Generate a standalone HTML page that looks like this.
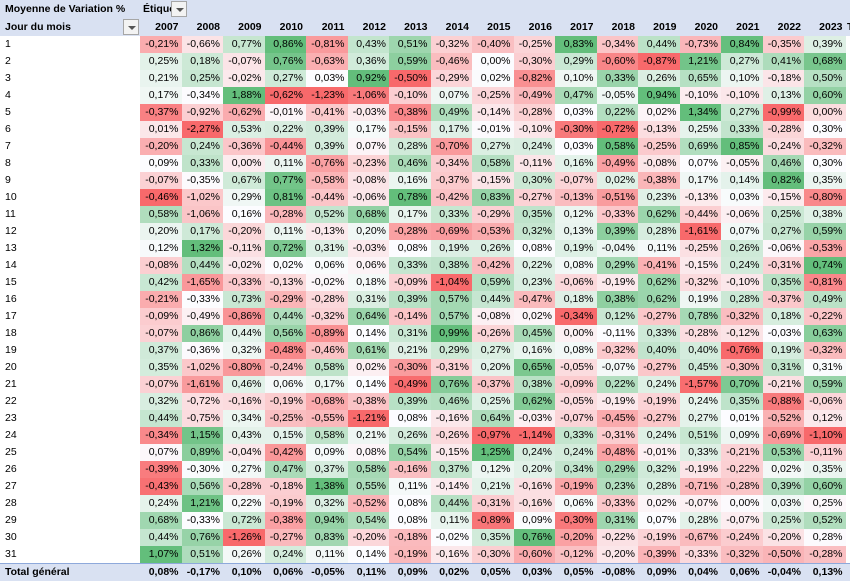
<!DOCTYPE html>
<html><head><meta charset="utf-8">
<style>
html,body{margin:0;padding:0;background:#fff;}
#wrap{position:relative;width:850px;height:581px;overflow:hidden;font-family:"Liberation Sans",sans-serif;font-size:10.5px;color:#000;}
.hdr{position:absolute;background:#D9E1F2;}
.c{position:absolute;box-sizing:border-box;text-align:right;padding-right:3px;line-height:17px;height:17px;white-space:nowrap;}
.b{font-weight:bold;}
.lbl{position:absolute;left:5px;line-height:17px;white-space:nowrap;}
.dd{position:absolute;width:16px;height:16px;box-sizing:border-box;border:1px solid #a6a6a6;background:#f3f3f3;}
.dd:after{content:"";position:absolute;left:4px;top:6px;border-left:4px solid transparent;border-right:4px solid transparent;border-top:4px solid #555;}
</style></head>
<body>
<div id="wrap">
  <div class="hdr" style="left:0;top:0;width:850px;height:36px;"></div>
  <div class="lbl b" style="top:1px;">Moyenne de Variation %</div>
  <div class="lbl b" style="left:143px;top:1px;width:28px;overflow:hidden;">Étiquettes de colonnes</div>
  <div class="dd" style="left:171px;top:1px;"></div>
  <div class="lbl b" style="top:19px;">Jour du mois</div>
  <div class="dd" style="left:123px;top:19px;"></div>
  <div class="c b" style="left:845px;top:19px;width:10px;text-align:left;padding:0 0 0 2px;">Total</div>
  <div class="hdr" style="left:0;top:563px;width:850px;height:18px;border-top:1px solid #8EA9DB;box-sizing:border-box;"></div>
  <div class="lbl b" style="top:564px;">Total général</div>
</div>
<script>
const years = [2007,2008,2009,2010,2011,2012,2013,2014,2015,2016,2017,2018,2019,2020,2021,2022,2023];
const days = [1,2,3,4,5,6,7,8,9,10,11,12,13,14,15,16,17,18,19,20,21,22,23,24,25,26,27,28,29,30,31];
const values = [
[-0.21,-0.66,0.77,0.86,-0.81,0.43,0.51,-0.32,-0.40,-0.25,0.83,-0.34,0.44,-0.73,0.84,-0.35,0.39],
[0.25,0.18,-0.07,0.76,-0.63,0.36,0.59,-0.46,0.00,-0.30,0.29,-0.60,-0.87,1.21,0.27,0.41,0.68],
[0.21,0.25,-0.02,0.27,0.03,0.92,-0.50,-0.29,0.02,-0.82,0.10,0.33,0.26,0.65,0.10,-0.18,0.50],
[0.17,-0.34,1.88,-0.62,-1.23,-1.06,-0.10,0.07,-0.25,-0.49,0.47,-0.05,0.94,-0.10,-0.10,0.13,0.60],
[-0.37,-0.92,-0.62,-0.01,-0.41,-0.03,-0.38,0.49,-0.14,-0.28,0.03,0.22,0.02,1.34,0.27,-0.99,0.00],
[0.01,-2.27,0.53,0.22,0.39,0.17,-0.15,0.17,-0.01,-0.10,-0.30,-0.72,-0.13,0.25,0.33,-0.28,0.30],
[-0.20,0.24,-0.36,-0.44,0.39,0.07,0.28,-0.70,0.27,0.24,0.03,0.58,-0.25,0.69,0.85,-0.24,-0.32],
[0.09,0.33,0.00,0.11,-0.76,-0.23,0.46,-0.34,0.58,-0.11,0.16,-0.49,-0.08,0.07,-0.05,0.46,0.30],
[-0.07,-0.35,0.67,0.77,-0.58,-0.08,0.16,-0.37,-0.15,0.30,-0.07,0.02,-0.38,0.17,0.14,0.82,0.35],
[-0.46,-1.02,0.29,0.81,-0.44,-0.06,0.78,-0.42,0.83,-0.27,-0.13,-0.51,0.23,-0.13,0.03,-0.15,-0.80],
[0.58,-1.06,0.16,-0.28,0.52,0.68,0.17,0.33,-0.29,0.35,0.12,-0.33,0.62,-0.44,-0.06,0.25,0.38],
[0.20,0.17,-0.20,0.11,-0.13,0.20,-0.28,-0.69,-0.53,0.32,0.13,0.39,0.28,-1.61,0.07,0.27,0.59],
[0.12,1.32,-0.11,0.72,0.31,-0.03,0.08,0.19,0.26,0.08,0.19,-0.04,0.11,-0.25,0.26,-0.06,-0.53],
[-0.08,0.44,-0.02,0.02,0.06,0.06,0.33,0.38,-0.42,0.22,0.08,0.29,-0.41,-0.15,0.24,-0.31,0.74],
[0.42,-1.65,-0.33,-0.13,-0.02,0.18,-0.09,-1.04,0.59,0.23,-0.06,-0.19,0.62,-0.32,-0.10,0.35,-0.81],
[-0.21,-0.33,0.73,-0.29,-0.28,0.31,0.39,0.57,0.44,-0.47,0.18,0.38,0.62,0.19,0.28,-0.37,0.49],
[-0.09,-0.49,-0.86,0.44,-0.32,0.64,-0.14,0.57,-0.08,0.02,-0.34,0.12,-0.27,0.78,-0.32,0.18,-0.22],
[-0.07,0.86,0.44,0.56,-0.89,0.14,0.31,0.99,-0.26,0.45,0.00,-0.11,0.33,-0.28,-0.12,-0.03,0.63],
[0.37,-0.36,0.32,-0.48,-0.46,0.61,0.21,0.29,0.27,0.16,0.08,-0.32,0.40,0.40,-0.76,0.19,-0.32],
[0.35,-1.02,-0.80,-0.24,0.58,0.02,-0.30,-0.31,0.20,0.65,-0.05,-0.07,-0.27,0.45,-0.30,0.31,0.31],
[-0.07,-1.61,0.46,0.06,0.17,0.14,-0.49,0.76,-0.37,0.38,-0.09,0.22,0.24,-1.57,0.70,-0.21,0.59],
[0.32,-0.72,-0.16,-0.19,-0.68,-0.38,0.39,0.46,0.25,0.62,-0.05,-0.19,-0.19,0.24,0.35,-0.88,-0.06],
[0.44,-0.75,0.34,-0.25,-0.55,-1.21,0.08,-0.16,0.64,-0.03,-0.07,-0.45,-0.27,0.27,0.01,-0.52,0.12],
[-0.34,1.15,0.43,0.15,0.58,0.21,0.26,-0.26,-0.97,-1.14,0.33,-0.31,0.24,0.51,0.09,-0.69,-1.10],
[0.07,0.89,-0.04,-0.42,0.09,0.08,0.54,-0.15,1.25,0.24,0.24,-0.48,-0.01,0.33,-0.21,0.53,-0.11],
[-0.39,-0.30,0.27,0.47,0.37,0.58,-0.16,0.37,0.12,0.20,0.34,0.29,0.32,-0.19,-0.22,0.02,0.35],
[-0.43,0.56,-0.28,-0.18,1.38,0.55,0.11,-0.14,0.21,-0.16,-0.19,0.23,0.28,-0.71,-0.28,0.39,0.60],
[0.24,1.21,0.22,-0.19,0.32,-0.52,0.08,0.44,-0.31,-0.16,0.06,-0.33,0.02,-0.07,0.00,0.03,0.25],
[0.68,-0.33,0.72,-0.38,0.94,0.54,0.08,0.11,-0.89,0.09,-0.30,0.31,0.07,0.28,-0.07,0.25,0.52],
[0.44,0.76,-1.26,-0.27,0.83,-0.20,-0.18,-0.02,0.35,0.76,-0.20,-0.22,-0.19,-0.67,-0.24,-0.20,0.28],
[1.07,0.51,0.26,0.24,0.11,0.14,-0.19,-0.16,-0.30,-0.60,-0.12,-0.20,-0.39,-0.33,-0.32,-0.50,-0.28]
];
const totals = [0.08,-0.17,0.10,0.06,-0.05,0.11,0.09,0.02,0.05,0.03,0.05,-0.08,0.09,0.04,0.06,-0.04,0.13];

const wrap = document.getElementById('wrap');
const X0 = 140, CW = 41.5, Y0 = 36, RH = 17;
function colX(j){ return X0 + j*CW; }
function rowY(i){ return Y0 + i*RH; }
function fmt(v){ return v.toFixed(2).replace('.', ',') + '%'; }
const RED=[248,105,107], WHITE=[252,252,255], GREEN=[99,190,123];
function mix(a,b,t){ return 'rgb('+a.map((x,k)=>Math.round(x+(b[k]-x)*t)).join(',')+')'; }
function colorFor(v,mn,md,mx){
  if (v <= md) { const t = md===mn ? 0 : (md - v)/(md - mn); return mix(WHITE, RED, Math.min(1,t)); }
  const t = mx===md ? 0 : (v - md)/(mx - md); return mix(WHITE, GREEN, Math.min(1,t));
}
const stats = years.map((y,j)=>{
  const col = values.map(r=>r[j]).sort((a,b)=>a-b);
  const n = col.length; const md = n%2 ? col[(n-1)/2] : (col[n/2-1]+col[n/2])/2;
  return {mn:col[0], md:md, mx:col[n-1]};
});

years.forEach((y,j)=>{
  const h = document.createElement('div');
  h.className = 'c b';
  h.style.left = colX(j)+'px'; h.style.top = '19px'; h.style.width = CW+'px';
  h.textContent = y;
  
  
  wrap.appendChild(h);
});

days.forEach((d,i)=>{
  const l = document.createElement('div');
  l.className = 'lbl';
  l.style.top = rowY(i)+'px';
  l.textContent = d;
  
  
  wrap.appendChild(l);
  years.forEach((y,j)=>{
    const v = values[i][j];
    const s = stats[j];
    const c = document.createElement('div');
    c.className = 'c';
    c.style.left = colX(j)+'px'; c.style.top = rowY(i)+'px'; c.style.width = CW+'px';
    c.style.background = colorFor(v, s.mn, s.md, s.mx);
    c.textContent = fmt(v);
    
    
    wrap.appendChild(c);
  });
});

totals.forEach((v,j)=>{
  const c = document.createElement('div');
  c.className = 'c b';
  c.style.left = colX(j)+'px'; c.style.top = '564px'; c.style.width = CW+'px';
  c.textContent = fmt(v);
  
  
  wrap.appendChild(c);
});
</script>
</body></html>
